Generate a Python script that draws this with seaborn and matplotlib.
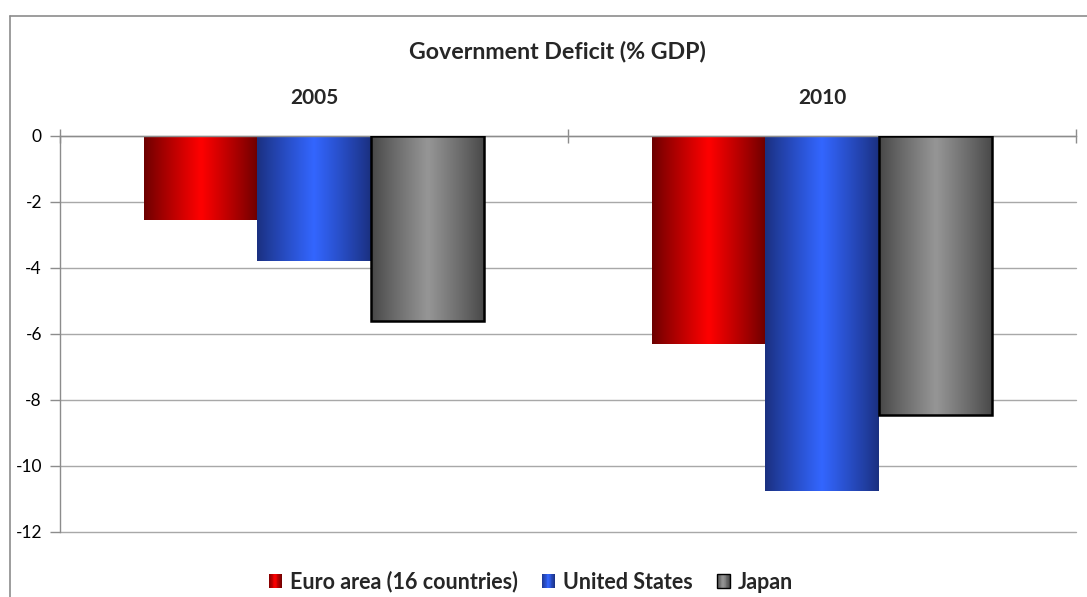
import numpy as np
import pandas as pd
import seaborn as sns
import matplotlib
matplotlib.use("Agg")
import matplotlib.pyplot as plt
from matplotlib.patches import Rectangle
from matplotlib.lines import Line2D
from matplotlib.legend_handler import HandlerBase
from matplotlib.colors import to_rgb

# ---- data ----
years = ["2005", "2010"]
series = ["Euro area (16 countries)", "United States", "Japan"]
euro_area = [-2.55, -6.3]
united_states = [-3.78, -10.75]
japan = [-5.6, -8.45]
y_ticks = [0, -2, -4, -6, -8, -10, -12]
title = "Government Deficit (% GDP)"

# ---- styles ----
bright = ["#ff0000", "#3366ff", "#969696"]
dark = ["#6a0000", "#1a2f7e", "#464646"]
edges = [None, None, "#000000"]

df = pd.DataFrame({
    "year": years * 3,
    "region": [s for s in series for _ in years],
    "value": euro_area + united_states + japan,
})

sns.set_theme(style="white")
plt.rcParams["font.family"] = ["Lato", "DejaVu Sans"]

fig = plt.figure(figsize=(10.87, 5.97), dpi=100)
ax = fig.add_axes([60 / 1087, 1 - 532 / 597, (1076 - 60) / 1087, (532 - 136) / 597])

sns.barplot(data=df, x="year", y="value", hue="region", hue_order=series,
            palette=bright, width=0.67, saturation=1, errorbar=None,
            legend=False, ax=ax)


def grad_colors(i, n=64):
    t = (np.arange(n) + 0.5) / n
    w = 1 - np.abs(2 * t - 1)
    w = w ** 0.9
    d = np.array(to_rgb(dark[i]))
    b = np.array(to_rgb(bright[i]))
    return d[None, :] + (b - d)[None, :] * w[:, None]


for i, cont in enumerate(ax.containers):
    cols = grad_colors(i)
    for p in cont.patches:
        x0, y0 = p.get_x(), p.get_y()
        w, h = p.get_width(), p.get_height()
        ymin, ymax = min(y0, y0 + h), max(y0, y0 + h)
        ax.imshow(cols[None, :, :], extent=(x0, x0 + w, ymin, ymax),
                  aspect="auto", interpolation="bilinear", zorder=2)
        p.set_facecolor("none")
        p.set_zorder(3)
        if edges[i]:
            p.set_edgecolor(edges[i])
            p.set_linewidth(1.8)
        else:
            p.set_edgecolor("none")

ax.set_xlim(-0.5, 1.5)
ax.set_ylim(-12, 0)
ax.set_yticks(y_ticks)
ax.set_yticklabels([str(v) for v in y_ticks], fontsize=12.5, color="black")
ax.yaxis.grid(True, color="#a8a8a8", lw=1)
for gl in ax.get_ygridlines():
    gl.set_clip_on(False)
ax.set_axisbelow(True)
ax.tick_params(axis="y", which="major", left=True, length=7, width=1,
               color="#8c8c8c", pad=6)

ax.xaxis.tick_top()
ax.set_xticks([-0.5, 0.5, 1.5])
ax.set_xticklabels(["", "", ""])
ax.set_xticks([0, 1], minor=True)
ax.set_xticklabels(years, minor=True, fontsize=15, fontweight="bold")
ax.tick_params(axis="x", which="major", top=True, length=10, width=1,
               direction="inout", color="#8c8c8c")
ax.tick_params(axis="x", which="minor", top=True, length=0, pad=20)
ax.set_xlabel("")
ax.set_ylabel("")

for s in ["right", "bottom"]:
    ax.spines[s].set_visible(False)
for s in ["left", "top"]:
    ax.spines[s].set_color("#8c8c8c")
    ax.spines[s].set_linewidth(1)

fig.text(557 / 1087, 1 - 51 / 597, title, ha="center", va="center",
         fontsize=16.7, fontweight="bold")

# outer chart border
bx, by = 10 / 1087, 1 - 16 / 597
fig.add_artist(Line2D([bx, bx], [0, by], color="#8c8c8c", lw=1.2, transform=fig.transFigure))
fig.add_artist(Line2D([bx, 1.0], [by, by], color="#8c8c8c", lw=1.2, transform=fig.transFigure))


class GradHandler(HandlerBase):
    def __init__(self, idx):
        super().__init__()
        self.idx = idx

    def create_artists(self, legend, orig_handle, xdescent, ydescent,
                       width, height, fontsize, trans):
        cols = grad_colors(self.idx, 16)
        x0, y0 = -xdescent, -ydescent
        n = len(cols)
        arts = []
        for k, c in enumerate(cols):
            arts.append(Rectangle((x0 + k * width / n, y0), width / n + 0.05, height,
                                  facecolor=c, edgecolor="none", transform=trans))
        if edges[self.idx]:
            arts.append(Rectangle((x0, y0), width, height, facecolor="none",
                                  edgecolor=edges[self.idx], lw=1, transform=trans))
        return arts


handles = [Rectangle((0, 0), 1, 1) for _ in series]
fig.legend(handles, series, loc="center", bbox_to_anchor=(531 / 1087, 1 - 582 / 597),
           ncol=3, frameon=False, handlelength=0.6, handleheight=0.6,
           handletextpad=0.4, columnspacing=1.1,
           prop={"size": 15.5, "weight": "bold"},
           handler_map={h: GradHandler(i) for i, h in enumerate(handles)})

fig.savefig("out.png", dpi=100)
